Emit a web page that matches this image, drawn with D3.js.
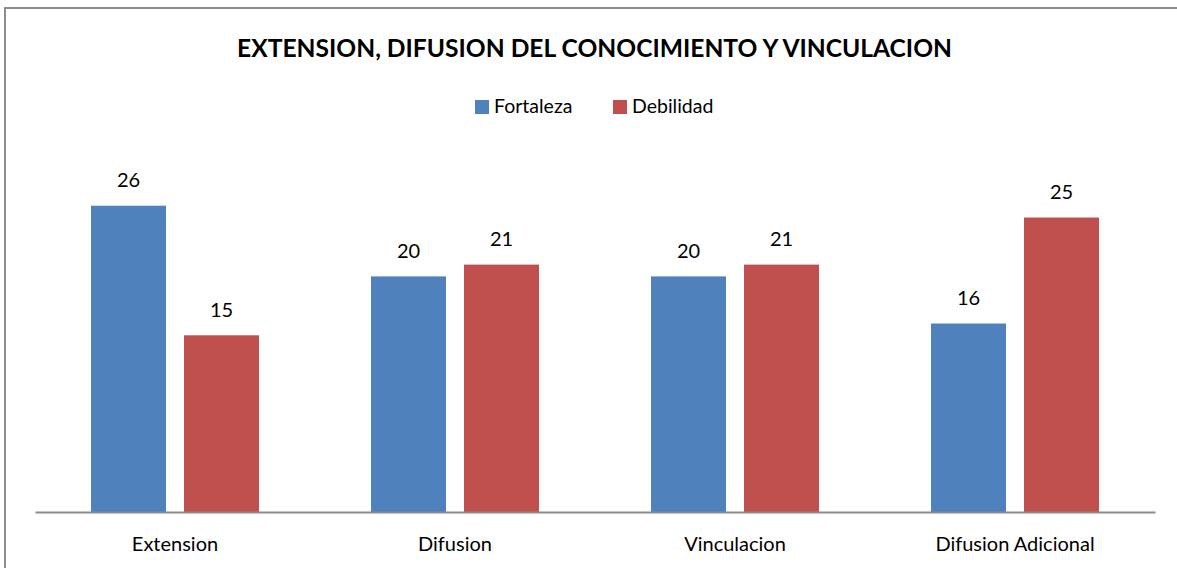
<!DOCTYPE html>
<html>
<head>
<meta charset="utf-8">
<script src="https://cdn.jsdelivr.net/npm/d3@7"></script>
<style>
  html, body { margin: 0; background: #fff; overflow: hidden; }
  svg { display: block; font-family: Lato, "Open Sans", sans-serif; }
</style>
</head>
<body>
<div id="chart"></div>
<script>
var categories = ['Extension', 'Difusion', 'Vinculacion', 'Difusion Adicional'];
var seriesNames = ['Fortaleza', 'Debilidad'];
var fortaleza = [26, 20, 20, 16];
var debilidad = [15, 21, 21, 25];
var seriesColors = ['#4F81BD', '#C0504D'];
var titleText = 'EXTENSION, DIFUSION DEL CONOCIMIENTO Y VINCULACION';

var width = 1177, height = 568;
var plot = {l: 35, r: 1155, base: 512};
var groupWidth = 168, barGap = 18;

var svg = d3.select('#chart').append('svg')
	.attr('width', width)
	.attr('height', height);

// chart frame (right and bottom edges fall outside the picture)
svg.append('rect')
	.attr('x', 5).attr('y', 8)
	.attr('width', 1185).attr('height', 580)
	.attr('fill', '#fff')
	.attr('stroke', '#8c8c8c')
	.attr('stroke-width', 2);

// title
svg.append('text')
	.attr('x', 594.5).attr('y', 57)
	.attr('text-anchor', 'middle')
	.attr('font-size', 24.5)
	.attr('font-weight', 'bold')
	.attr('textLength', 715)
	.attr('lengthAdjust', 'spacingAndGlyphs')
	.attr('fill', '#000')
	.text(titleText);

// scales
var x0 = d3.scaleBand().domain(categories).range([plot.l, plot.r]);
var x1 = d3.scaleBand().domain(seriesNames).range([0, groupWidth])
	.paddingInner(barGap / ((groupWidth + barGap) / 2));
var y = d3.scaleLinear().domain([0, 30]).range([plot.base, plot.base - 353.4]);

var rows = categories.map(function(c, i) {
	return {cat: c, values: [fortaleza[i], debilidad[i]]};
});

var groups = svg.selectAll('g.group')
	.data(rows)
	.enter().append('g')
	.attr('class', 'group')
	.attr('transform', function(d) {
		return 'translate(' + (x0(d.cat) + x0.bandwidth() / 2 - groupWidth / 2) + ',0)';
	});

var bars = groups.selectAll('g.bar')
	.data(function(d) {
		return d.values.map(function(v, i) { return {series: seriesNames[i], value: v, i: i}; });
	})
	.enter().append('g')
	.attr('class', 'bar');

bars.append('rect')
	.attr('x', function(d) { return x1(d.series); })
	.attr('y', function(d) { return y(d.value); })
	.attr('width', x1.bandwidth())
	.attr('height', function(d) { return plot.base - y(d.value); })
	.attr('fill', function(d) { return seriesColors[d.i]; });

bars.append('text')
	.attr('x', function(d) { return x1(d.series) + x1.bandwidth() / 2; })
	.attr('y', function(d) { return y(d.value) - 18.5; })
	.attr('text-anchor', 'middle')
	.attr('font-size', 20)
	.attr('fill', '#000')
	.text(function(d) { return d.value; });

// x axis
var xAxis = svg.append('g')
	.attr('transform', 'translate(0,' + plot.base + ')')
	.call(d3.axisBottom(x0).tickSize(0).tickPadding(0));
xAxis.select('.domain').attr('stroke', '#8c8c8c').attr('stroke-width', 2);
xAxis.selectAll('text')
	.attr('font-family', 'Lato, "Open Sans", sans-serif')
	.attr('font-size', 20)
	.attr('fill', '#000')
	.attr('dy', null)
	.attr('y', 39);

// legend
var legendX = [475, 613];
var legend = svg.selectAll('g.legend')
	.data(seriesNames)
	.enter().append('g')
	.attr('class', 'legend')
	.attr('transform', function(d, i) { return 'translate(' + legendX[i] + ',100)'; });
legend.append('rect')
	.attr('width', 14).attr('height', 14)
	.attr('fill', function(d, i) { return seriesColors[i]; });
legend.append('text')
	.attr('x', 19).attr('y', 12.5)
	.attr('font-size', 19.5)
	.attr('fill', '#000')
	.text(function(d) { return d; });
</script>
</body>
</html>
